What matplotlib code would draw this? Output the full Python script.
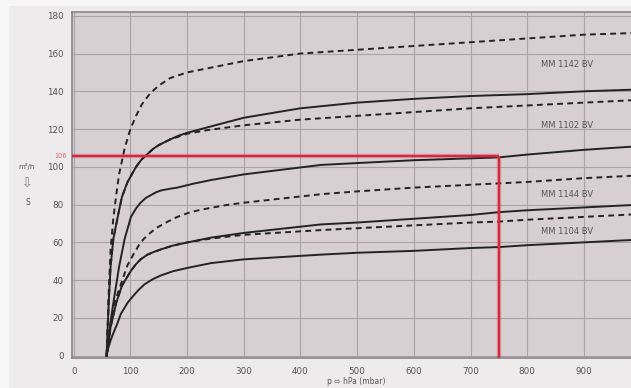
import matplotlib
matplotlib.use("Agg")
import matplotlib.pyplot as plt
from matplotlib.patches import Rectangle

# ---- data ----
x_1142_dash = [58, 62, 65, 70, 75, 80, 90, 100, 110, 120, 135, 150, 170, 200, 250, 300, 400, 500, 600, 700, 800, 900, 1000]
y_1142_dash = [0, 35, 56, 73, 85, 96, 110, 120, 127, 133, 139, 143, 147, 150, 153, 156, 160, 162, 164, 166, 168, 170, 171]

x_1142_solid = [58, 62, 65, 70, 78, 85, 95, 110, 120, 131, 140, 150, 160, 170, 185, 200, 237, 300, 400, 500, 600, 700, 800, 900, 1000]
y_1142_solid = [0, 30, 47, 62, 74, 84, 92, 100, 104, 107, 109.5, 111.5, 113, 114.5, 116.5, 118, 121, 126, 131, 134, 136, 137.5, 138.5, 140, 141]

x_1102_dash = [58, 62, 65, 70, 78, 85, 95, 110, 120, 131, 140, 150, 160, 170, 185, 200, 237, 300, 400, 500, 600, 700, 800, 900, 1000]
y_1102_dash = [0, 30, 47, 62, 74, 84, 92, 100, 104, 107, 109.5, 111.5, 113, 114.5, 116, 117.5, 119.5, 122, 125, 127, 129, 131, 132.5, 134, 135.5]

x_1102_solid = [58, 62, 65, 71, 80, 90, 101, 110, 118, 127, 136, 145, 154, 168, 183, 210, 242, 300, 436, 500, 600, 700, 750, 800, 900, 1000]
y_1102_solid = [0, 10, 18, 30, 47, 62, 73.5, 78, 81, 83.5, 85, 86.5, 87.5, 88.3, 89, 91, 93, 96, 101, 102, 103.5, 104.5, 105, 106.5, 109, 111]

x_1144_dash = [58, 62, 65, 72, 80, 88, 95, 106, 115, 124, 135, 145, 154, 166, 183, 201, 220, 237, 270, 300, 436, 500, 600, 700, 800, 900, 1000]
y_1144_dash = [0, 9, 17, 28, 35, 42, 48, 54, 58.5, 62, 65, 67.5, 69, 71, 73.5, 75.5, 77, 78, 79.8, 81, 85.5, 87, 89, 90.5, 92, 94, 95.5]

x_1144_solid = [58, 62, 65, 75, 85, 95, 101, 110, 118, 130, 142, 154, 175, 201, 242, 300, 436, 500, 600, 700, 750, 800, 900, 1000]
y_1144_solid = [0, 8, 15, 28, 37, 42, 45, 48.5, 51, 53.5, 55, 56.3, 58.3, 60, 62.5, 65, 69.5, 70.5, 72.5, 74.5, 76, 77, 78.5, 80]

x_1104_dash = [58, 62, 65, 75, 85, 95, 101, 110, 118, 130, 142, 154, 175, 201, 242, 300, 436, 500, 600, 700, 750, 800, 900, 1000]
y_1104_dash = [0, 8, 15, 28, 37, 42, 45, 48.5, 51, 53.5, 55, 56.3, 58.3, 60, 62, 64, 66.5, 67.5, 69, 70.5, 71, 72, 73.5, 75]

x_1104_solid = [58, 61, 65, 70, 77, 83, 95, 106, 115, 125, 140, 154, 175, 201, 242, 300, 436, 500, 600, 700, 750, 800, 900, 1000]
y_1104_solid = [0, 4, 8, 12, 17, 22, 28, 32, 35, 37.8, 40.6, 42.5, 44.7, 46.5, 49, 51, 53.5, 54.5, 55.5, 57, 57.5, 58.5, 60, 61.5]

curve_labels = ["MM 1142 BV", "MM 1102 BV", "MM 1144 BV", "MM 1104 BV"]
label_x = [870, 870, 870, 870]
label_y = [154, 122, 85.5, 65.5]

x_ticks = [0, 100, 200, 300, 400, 500, 600, 700, 800, 900, 1000]
y_ticks = [0, 20, 40, 60, 80, 100, 120, 140, 160, 180]

op_flow = 106
op_pressure = 750

# ---- figure ----
W, H = 631, 388
fig = plt.figure(figsize=(W / 100, H / 100), dpi=100, facecolor="#eeebec")
fig.patches.append(Rectangle((0, 0), 9 / W, 1, transform=fig.transFigure,
                             facecolor="#f7f6f6", edgecolor="none", zorder=0))
fig.patches.append(Rectangle((0, 1 - 6 / H), 1, 6 / H, transform=fig.transFigure,
                             facecolor="#f7f6f6", edgecolor="none", zorder=0))

ax = fig.add_axes([72 / W, 1 - 358.3 / H, 571.5 / W, 346.3 / H])
ax.set_facecolor("#d8cfd2")
ax.set_xlim(-3, 1005)
ax.set_ylim(-1.4, 182)

ax.set_xticks(x_ticks)
ax.set_yticks(y_ticks)
ax.grid(True, color="#aaa2a5", linewidth=0.8)
ax.set_axisbelow(True)
ax.tick_params(length=0, labelsize=6.3, labelcolor="#555555")
ax.tick_params(axis="y", pad=6)
ax.tick_params(axis="x", pad=6)
for s in ax.spines.values():
    s.set_color("#8a8587")
    s.set_linewidth(1.2)

lw = 1.4
dash = (0, (3, 2.2))
col = "#232323"
ax.plot(x_1142_dash, y_1142_dash, color=col, lw=lw, linestyle=dash)
ax.plot(x_1142_solid, y_1142_solid, color=col, lw=lw)
ax.plot(x_1102_dash, y_1102_dash, color=col, lw=lw, linestyle=dash)
ax.plot(x_1102_solid, y_1102_solid, color=col, lw=lw)
ax.plot(x_1144_dash, y_1144_dash, color=col, lw=lw, linestyle=dash)
ax.plot(x_1144_solid, y_1144_solid, color=col, lw=lw)
ax.plot(x_1104_dash, y_1104_dash, color=col, lw=lw, linestyle=dash)
ax.plot(x_1104_solid, y_1104_solid, color=col, lw=lw)

# operating point lines (with soft halo)
red = "#d42a3c"
for w, a in [(3.2, 0.25), (1.7, 1.0)]:
    ax.plot([-3, op_pressure], [op_flow, op_flow], color=red, lw=w, alpha=a,
            solid_capstyle="butt", zorder=4)
    ax.plot([op_pressure, op_pressure], [-1.4, op_flow], color=red, lw=w, alpha=a,
            solid_capstyle="butt", zorder=4)
ax.text(-12, op_flow, str(op_flow), color="#e06a78", fontsize=4.8,
        ha="right", va="center", clip_on=False)

for t, lx, ly in zip(curve_labels, label_x, label_y):
    ax.text(lx, ly, t, fontsize=6, color="#555555", ha="center", va="center")

# axis labels
fig.text(27 / W, 1 - 167 / H, "m³/h", fontsize=5, color="#555555", ha="center", va="center")
fig.text(27 / W, 1 - 184 / H, "⇩", fontsize=9, color="#777777", ha="center", va="center")
fig.text(28 / W, 1 - 202 / H, "S", fontsize=5.5, color="#555555", ha="center", va="center")
fig.text(356 / W, 1 - 381 / H, "p ⇨ hPa (mbar)", fontsize=5.5, color="#555555", ha="center", va="center")

fig.savefig("out.png", dpi=100, facecolor=fig.get_facecolor())
